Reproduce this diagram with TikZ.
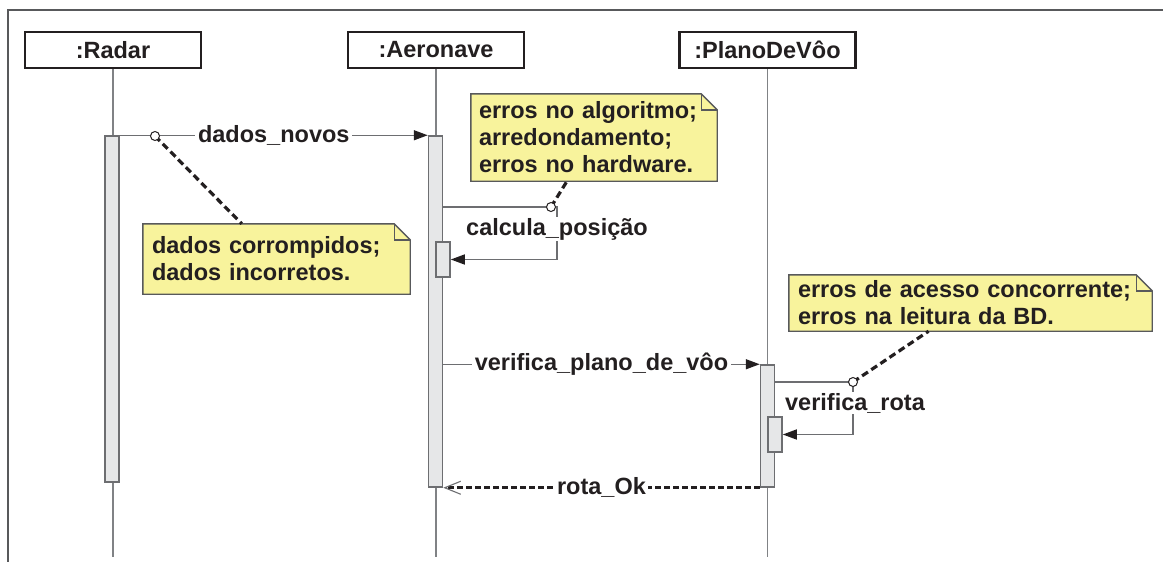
\documentclass[tikz,border=0pt]{standalone}
\usepackage{fontspec}
\setmainfont{Liberation Sans}
\usetikzlibrary{arrows.meta,backgrounds}
\definecolor{txt}{HTML}{231F20}
\definecolor{notefill}{HTML}{F8F39C}
\definecolor{noteb}{HTML}{58595B}
\definecolor{lifec}{HTML}{808285}
\definecolor{actf}{HTML}{E6E7E8}
\definecolor{actb}{HTML}{6D6E71}
\definecolor{msgc}{HTML}{6D6E71}
\definecolor{framec}{HTML}{58595B}
\newcommand\umlnotebg[1]{%
  \begin{scope}[on background layer]
    \filldraw[notebd] (#1.north west) -- ([xshift=-16pt]#1.north east)
      -- ([yshift=-16pt]#1.north east) -- (#1.south east) -- (#1.south west) -- cycle;
    \draw[notebd, fill=none] ([xshift=-16pt]#1.north east) |- ([yshift=-16pt]#1.north east);
  \end{scope}}
\tikzset{
  hdr/.style={draw=txt, line width=2.6pt, fill=white, minimum width=176pt, minimum height=36pt, inner sep=0pt},
  life/.style={draw=lifec, line width=1.6pt},
  act/.style={draw=actb, fill=actf, line width=1.5pt, minimum width=14pt, inner sep=0pt},
  msg/.style={draw=msgc, line width=1.4pt, -{Triangle[length=14pt,width=10pt,color=txt]}},
  lbl/.style={fill=white, inner xsep=3pt, inner ysep=1pt},
  note/.style={align=left, inner xsep=8pt, inner ysep=0pt},
  notebd/.style={draw=noteb, fill=notefill, line width=1.4pt},
  anch/.style={draw=txt, line width=1pt, fill=white, circle, minimum size=9pt, inner sep=0pt},
  link/.style={draw=txt, line width=3.2pt, dash pattern=on 7pt off 4pt},
  ret/.style={draw=txt, line width=3pt, dash pattern=on 6pt off 3pt,
    -{Straight Barb[length=16pt,width=13pt,line width=1.1pt,color=actb]}}
}
\begin{document}
\begin{tikzpicture}[x=1pt,y=-1pt, font=\fontsize{23.5}{27}\selectfont\bfseries, text=txt]
\useasboundingbox (0,0) rectangle (1163,562);
% frame
\draw[draw=framec, line width=1.6pt] (8,562) -- (8,10) -- (1163,10);
% headers
\node[hdr] (radar) at (113,50) {:Radar};
\node[hdr] (aero) at (436,50) {:Aeronave};
\node[hdr] (plano) at (767.5,50) {:PlanoDeVôo};
% lifelines
\coordinate (rend) at (113,557);
\coordinate (aend) at (436,557);
\coordinate (pend) at (768,557);
\draw[life] (radar.south) -- (radar.south |- rend);
\draw[life] (aero.south) -- (aero.south |- aend);
\draw[life] (plano.south) -- (plano.south |- pend);
% activations
\node[act, minimum height=346pt] (ra) at (112,309) {};
\node[act, minimum height=351pt] (aa) at (435.5,311.5) {};
\node[act, minimum height=122pt] (pa) at (767.5,426) {};
\node[act, minimum height=35pt] (ca) at (443,259.5) {};
\node[act, minimum height=35pt] (va) at (775,434.5) {};
% notes
\node[note, minimum width=246pt, minimum height=87pt, text width=230pt] (n1) at (594,137.5)
  {erros no algoritmo;\\arredondamento;\\erros no hardware.};
\umlnotebg{n1}
\node[note, minimum width=267pt, minimum height=70pt, text width=249pt, inner xsep=9pt] (n2) at (276.5,259)
  {dados corrompidos;\\dados incorretos.};
\umlnotebg{n2}
\node[note, minimum width=363pt, minimum height=56pt, text width=345pt, inner xsep=9pt] (n3) at (970.5,303)
  {erros de acesso concorrente;\\erros na leitura da BD.};
\umlnotebg{n3}
% dados_novos
\draw[msg] (ra.north east) -- node[lbl] {dados\_novos} (aa.north west);
% calcula_posicao
\coordinate (cp) at (557,207);
\draw[msg] (aa.east |- cp) -- (cp) -- (cp |- ca.east) -- (ca.east);
\node[lbl] (cpl) at (557,229) {calcula\_posição};
% verifica_plano_de_voo
\draw[msg] (aa.east |- pa.north) -- node[lbl] {verifica\_plano\_de\_vôo} (pa.north west);
% verifica_rota
\coordinate (vr) at (853,382);
\draw[msg] (pa.east |- vr) -- (vr) -- (vr |- va.east) -- (va.east);
\node[lbl] (vrl) at (855,403) {verifica\_rota};
% rota_Ok
\draw[ret] (pa.south west) -- node[lbl, inner xsep=2pt] {rota\_Ok} (aa.south east);
% note links
\coordinate (k1) at (155,136);
\coordinate (k2) at (551,207);
\coordinate (k3) at (853,382);
\draw[link] (k1) -- (n2);
\draw[link] (k2) -- (n1);
\draw[link] (k3) -- (n3);
\node[anch] at (k1) {};
\node[anch] at (k2) {};
\node[anch] at (k3) {};
\end{tikzpicture}
\end{document}
